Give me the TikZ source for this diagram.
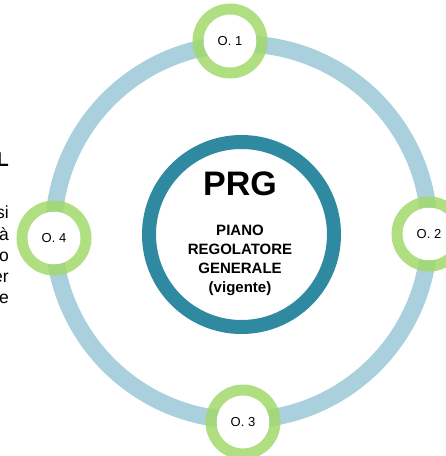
\documentclass[tikz,border=0pt]{standalone}
\usepackage{fontspec}
\setmainfont{Liberation Sans}
\definecolor{ringblue}{RGB}{170,207,221}
\definecolor{prgteal}{RGB}{47,137,160}
\definecolor{ogreen}{RGB}{162,217,108}
\tikzset{
  bigring/.style={ringblue, line width=17pt},
  prgring/.style={circle, draw=prgteal, line width=14pt, fill=white, minimum size=185pt, inner sep=0pt},
  obox/.style={circle, fill=white, minimum size=53pt, inner sep=0pt, font=\fontsize{13}{15}\selectfont},
  oring/.style={ogreen, draw opacity=0.85, line width=11pt},
  sidetext/.style={anchor=base east, inner sep=0pt, font=\fontsize{17.5}{20}\selectfont},
}
\begin{document}
\begin{tikzpicture}[x=1pt,y=-1pt]
\useasboundingbox (0,0) rectangle (446,456);
\clip (0,0) rectangle (446,456);
% side text fragments
\node[sidetext, font=\bfseries\fontsize{20}{24}\selectfont] (tL) at (9,166) {L};
\node[sidetext] (t1) at (9,218) {si};
\node[sidetext] (t2) at (9,240) {à};
\node[sidetext] (t3) at (9,261) {o};
\node[sidetext] (t4) at (9,282) {er};
\node[sidetext] (t5) at (9,303) {e};
% outer ring
\coordinate (c) at (241.5,232);
\draw[bigring] (c) circle[radius=188];
% central circle
\node[prgring] (prg) at (241.5,234.5) {};
\node[font=\bfseries\fontsize{34}{36}\selectfont] (prgt) at (240,184) {PRG};
\node[font=\bfseries\fontsize{15}{19}\selectfont, align=center] (prgsub) at (240,260) {PIANO\\REGOLATORE\\GENERALE\\(vigente)};
% objective circles
\node[obox] (o1) at (230,41) {O. 1};
\node[obox] (o2) at (429,234) {O. 2};
\node[obox] (o3) at (243,422) {O. 3};
\node[obox] (o4) at (54,238) {O. 4};
\foreach \n in {o1,o2,o3,o4} \draw[oring] (\n.center) circle[radius=32];
\end{tikzpicture}
\end{document}
